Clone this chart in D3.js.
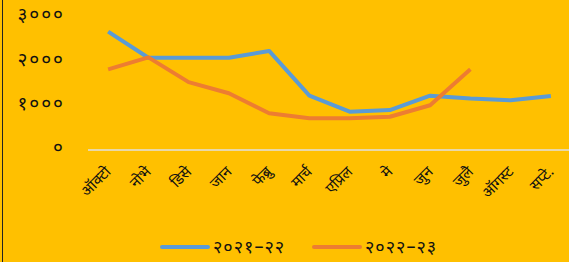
<!DOCTYPE html>
<html>
<head>
<meta charset="utf-8">
<script src="https://cdn.jsdelivr.net/npm/d3@7"></script>
<style>
  html, body { margin: 0; padding: 0; background: #FFC000; }
  #chart { width: 569px; height: 262px; }
</style>
</head>
<body>
<div id="chart"></div>
<script>
// 월 (x축 카테고리)
const months = ['ऑक्टो', 'नोभे', 'डिसे', 'जान', 'फेब्रु', 'मार्च', 'एप्रिल', 'मे', 'जुन', 'जुलै', 'ऑगस्ट', 'सप्टे.'];
// 시리즈 값
const values2021 = [2670, 2080, 2080, 2080, 2235, 1225, 865, 900, 1225, 1160, 1120, 1220];
const values2022 = [1820, 2090, 1530, 1280, 830, 715, 715, 750, 1010, 1820];
const seriesNames = ['२०२१–२२', '२०२२–२३'];
const seriesColors = ['#5B9BD5', '#ED7D31'];
const yTicks = [0, 1000, 2000, 3000];

// 숫자를 데바나가리 숫자로 변환
const devaDigits = '०१२३४५६७८९';
const toDeva = (n) => String(n).replace(/[0-9]/g, (c) => devaDigits[+c]);

function chartLine(tagName) {
  const width = 569;
  const height = 262;
  const margin = { top: 17, left: 88, bottom: 112, right: -2 };
  const font = "'Noto Sans Devanagari', 'Noto Sans', sans-serif";

  const svg = d3
    .select(tagName)
    .append('svg')
    .attr('width', width)
    .attr('height', height)
    .attr('viewBox', '0 0 ' + width + ' ' + height);

  svg.append('rect').attr('width', width).attr('height', height).attr('fill', '#FFC000');
  // 왼쪽 테두리
  svg.append('line').attr('x1', 2.5).attr('x2', 2.5).attr('y1', 0).attr('y2', height)
    .attr('stroke', '#222').attr('stroke-width', 1);

  const x = d3.scaleBand().domain(months).range([margin.left, width - margin.right]);

  const y = d3.scaleLinear().domain([0, 3000]).range([height - margin.bottom, margin.top]);

  // y축
  svg
    .append('g')
    .attr('transform', `translate(65, 0)`)
    .call(d3.axisLeft(y).tickValues(yTicks).tickSize(0).tickPadding(0).tickFormat(toDeva))
    .call((g) => g.select('.domain').remove())
    .call((g) => g.selectAll('text')
      .attr('font-family', font).attr('font-size', '19px').attr('fill', '#111')
      .attr('letter-spacing', '2px').attr('dy', '0.2em'));

  // 0 기준선
  svg.append('line')
    .attr('x1', margin.left).attr('x2', width)
    .attr('y1', y(0)).attr('y2', y(0))
    .attr('stroke', '#E0E0E0').attr('stroke-width', 1.5);

  // x축
  svg
    .append('g')
    .attr('transform', `translate(0, ${y(0)})`)
    .call(d3.axisBottom(x).tickSize(0).tickPadding(0))
    .call((g) => g.select('.domain').remove())
    .call((g) => g.selectAll('text')
      .attr('font-family', font).attr('font-size', '15px').attr('fill', '#111')
      .attr('text-anchor', 'end')
      .attr('transform', 'translate(0, 19) rotate(-45)')
      .attr('dy', '0.35em'));

  const line = d3.line()
    .x((d, i) => x(months[i]) + x.bandwidth() / 2)
    .y((d) => y(d));

  [values2021, values2022].forEach((vals, i) => {
    svg.append('path')
      .datum(vals)
      .attr('fill', 'none')
      .attr('stroke', seriesColors[i])
      .attr('stroke-width', 4)
      .attr('stroke-linejoin', 'round')
      .attr('d', line);
  });

  // 범례
  const legendX = [162, 314];
  const legend = svg.append('g').selectAll('g').data(seriesNames).enter().append('g')
    .attr('transform', (d, i) => `translate(${legendX[i]}, 247)`);
  legend.append('line')
    .attr('x1', 0).attr('x2', 46).attr('y1', 0).attr('y2', 0)
    .attr('stroke', (d, i) => seriesColors[i]).attr('stroke-width', 4).attr('stroke-linecap', 'round');
  legend.append('text')
    .attr('x', 51).attr('y', 0).attr('dy', '0.35em')
    .attr('font-family', font).attr('font-size', '18px').attr('fill', '#111')
    .attr('letter-spacing', '1px')
    .text((d) => d);

  svg.node();
}

chartLine('#chart');
</script>
</body>
</html>
